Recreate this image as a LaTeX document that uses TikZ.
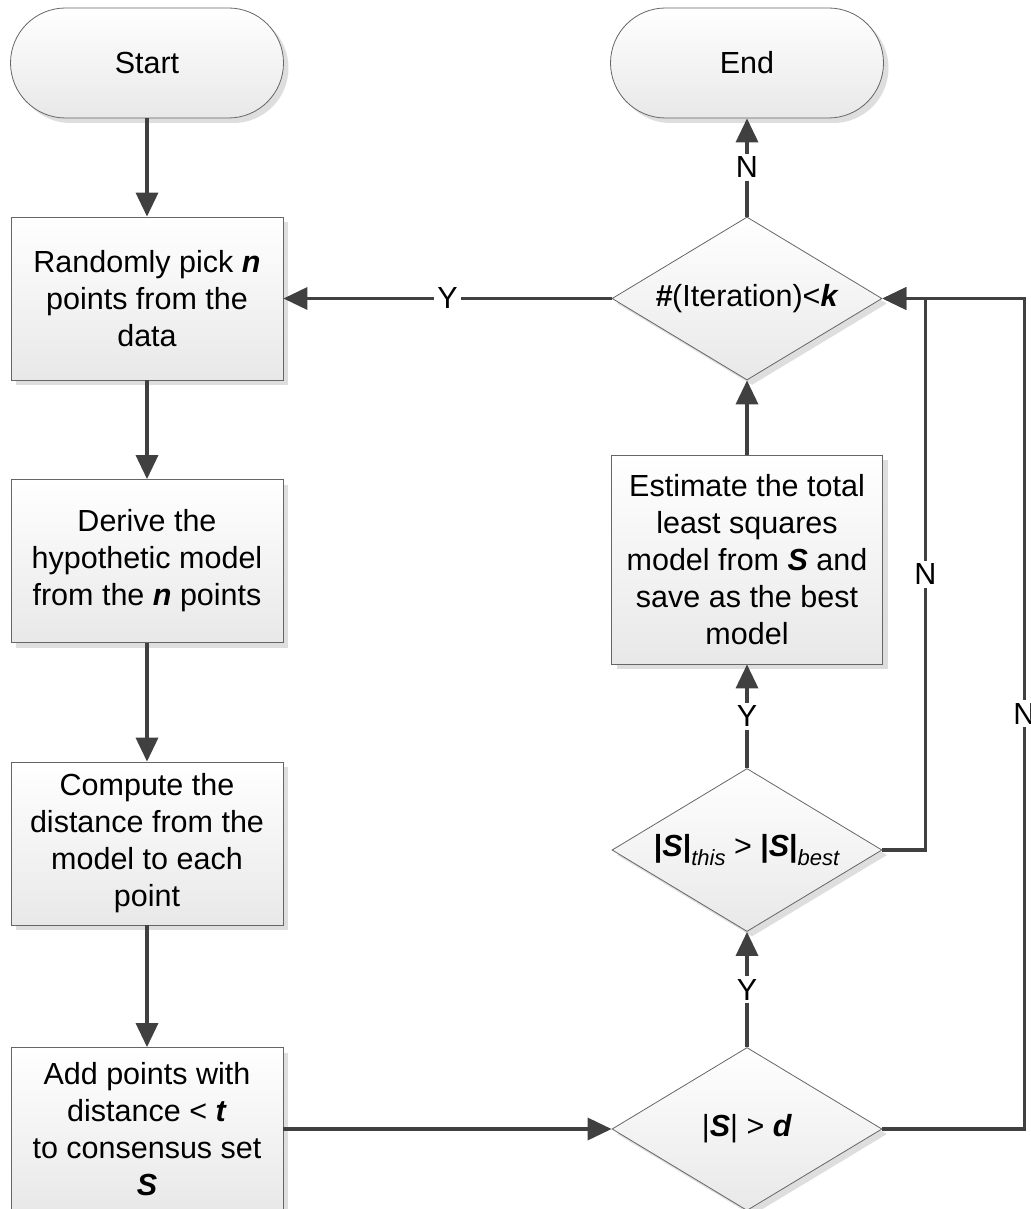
\documentclass[tikz,border=0pt]{standalone}
\usepackage{fontspec}
\setmainfont{Liberation Sans}
\usetikzlibrary{shapes.geometric,arrows.meta,shadows}
\newcommand{\bi}[1]{\textbf{\textit{#1}}}
\newcommand{\subtx}[1]{\raisebox{-0.28em}{\fontsize{22}{22}\selectfont\textit{#1}}}
\begin{document}
\begin{tikzpicture}[x=1pt,y=-1pt,
 base/.style={draw=black!60, line width=0.8pt, top color=white, bottom color=black!9,
   general shadow={fill=black!13, shadow xshift=5pt, shadow yshift=-5pt},
   font=\fontsize{30.5}{37}\selectfont, align=center, inner sep=0pt},
 term/.style={base, rounded corners=55pt, minimum width=273pt, minimum height=110pt},
 proc/.style={base, minimum width=272pt, minimum height=163pt},
 dec/.style={base, diamond, minimum width=270pt, minimum height=163pt},
 conn/.style={draw=black!75, line width=3.5pt, -{Triangle[length=24pt,width=22pt]}},
 lbl/.style={fill=white, inner sep=3pt, font=\fontsize{30.5}{34}\selectfont}
]
\useasboundingbox (0,0) rectangle (1030,1209);
\node[term] (start) at (147,63) {Start};
\node[term] (end) at (747,63) {End};
\node[proc] (b1) at (147,298.5) {Randomly pick \bi{n}\\points from the\\data};
\node[proc] (b2) at (147,561) {Derive the\\hypothetic model\\from the \bi{n} points};
\node[proc] (b3) at (147,843.5) {Compute the\\distance from the\\model to each\\point};
\node[proc] (b4) at (147,1129) {Add points with\\distance < \bi{t}\\to consensus set\\\bi{S}};
\node[dec] (d1) at (747,298.5) {\makebox[0pt]{{\bfseries\itshape\symbol{35}}(Iteration)<\bi{k}}};
\node[proc, minimum width=271pt, minimum height=209pt] (est) at (747,559.5) {Estimate the total\\least squares\\model from \bi{S} and\\save as the best\\model};
\node[dec] (d2) at (747,850) {\makebox[0pt]{\textbf{|}\bi{S}\textbf{|}\subtx{this} > \textbf{|}\bi{S}\textbf{|}\subtx{best}}};
\node[dec] (d3) at (747,1129) {\makebox[0pt]{|\bi{S}| > \bi{d}}};

\draw[conn] (start) -- (b1);
\draw[conn] (b1) -- (b2);
\draw[conn] (b2) -- (b3);
\draw[conn] (b3) -- (b4);
\draw[conn] (b4) -- (d3);
\draw[conn] (d3) -- node[lbl]{Y} (d2);
\draw[conn] (d2) -- node[lbl]{Y} (est);
\draw[conn] (est) -- (d1);
\draw[conn] (d1) -- node[lbl]{N} (end);
\draw[conn] (d1) -- node[lbl]{Y} (b1);
\draw[conn] (d2.east) -- ++(43,0) |- node[lbl,pos=0.25]{N} (d1.east);
\draw[conn] (d3.east) -- ++(142,0) |- node[lbl,pos=0.25]{N} (d1.east);
\end{tikzpicture}
\end{document}
